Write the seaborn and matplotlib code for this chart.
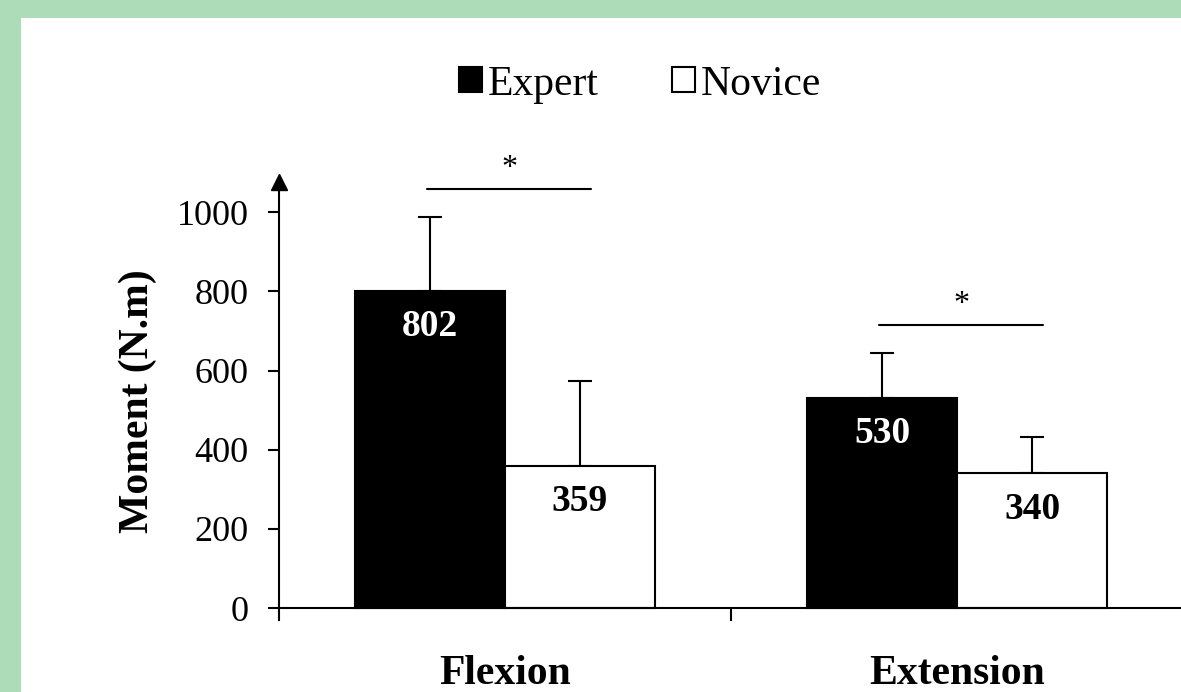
import numpy as np
import pandas as pd
import matplotlib.pyplot as plt
import seaborn as sns
from matplotlib.patches import Rectangle

categories = ['Flexion', 'Extension']
groups = ['Expert', 'Novice']
expert = [802, 530]
novice = [359, 340]
expert_sd = [185, 114]
novice_sd = [214, 92]
sig_level = [1058, 715]
yticks = [0, 200, 400, 600, 800, 1000]

sns.set_style('white')
plt.rcParams['font.family'] = ['Liberation Serif', 'DejaVu Serif']
plt.rcParams.update({'text.color': 'black', 'axes.labelcolor': 'black',
                     'xtick.color': 'black', 'ytick.color': 'black'})

df = pd.DataFrame({
    'cat': categories * 2,
    'group': ['Expert'] * 2 + ['Novice'] * 2,
    'value': expert + novice,
    'sd': expert_sd + novice_sd,
})

fig = plt.figure(figsize=(11.81, 6.92), dpi=100)
fig.patch.set_facecolor('#ADDCB8')
fig.patches.append(Rectangle((21 / 1181, 0), 1, 1 - 18 / 692, transform=fig.transFigure,
                             facecolor='white', edgecolor='none', zorder=-10))

ax = fig.add_axes([279 / 1181, (692 - 620) / 692, 904 / 1181, (620 - 182) / 692])
ax.set_facecolor('none')

sns.barplot(data=df, x='cat', y='value', hue='group', hue_order=groups,
            palette={'Expert': 'black', 'Novice': 'white'}, width=0.664,
            edgecolor='black', linewidth=1.5, errorbar=None, ax=ax, zorder=2)

# error bars + value labels from the drawn bars
for cont, grp in zip(ax.containers, groups):
    sub = df[df.group == grp]
    for bar, v, sd in zip(cont, sub.value, sub.sd):
        xc = bar.get_x() + bar.get_width() / 2
        ax.errorbar(xc, v, yerr=[[0], [sd]], fmt='none', ecolor='black',
                    elinewidth=1.5, capsize=8.5, capthick=1.5, zorder=1)
        ax.text(xc, v - 90, str(v), ha='center', va='center', fontsize=27,
                fontweight='bold', color='white' if grp == 'Expert' else 'black', zorder=3)

# significance brackets
for i, lv in enumerate(sig_level):
    ax.plot([i - 0.173, i + 0.19], [lv, lv], color='black', lw=1.5, clip_on=False)
    ax.text(i + 0.01, lv + 52, '*', ha='center', va='center', fontsize=23, clip_on=False)

ax.set_xlim(-0.5, 1.5)
ax.set_ylim(-30, 1076)
ax.set_yticks(yticks)
ax.set_xlabel('')
ax.set_ylabel('Moment (N.m)', fontsize=30, fontweight='bold', labelpad=14)

for s in ['top', 'right']:
    ax.spines[s].set_visible(False)
ax.spines['bottom'].set_position(('data', 0))
for s in ['left', 'bottom']:
    ax.spines[s].set_linewidth(1.5)
    ax.spines[s].set_color('black')
ax.plot([0], [1], marker='^', markersize=11, color='black', transform=ax.transAxes, clip_on=False)

ax.tick_params(axis='y', direction='out', length=8, width=1.5, labelsize=26, pad=14, left=True)
ax.tick_params(axis='x', which='major', length=0, labelsize=30, pad=34)
ax.set_xticks([0.5, 1.5], minor=True)
ax.tick_params(axis='x', which='minor', direction='out', length=9, width=1.5, bottom=True)
for lab in ax.get_xticklabels():
    lab.set_fontweight('bold')

handles, labels = ax.get_legend_handles_labels()
ax.legend(handles, labels, loc='center', bbox_to_anchor=(0.542, 0.878),
          bbox_transform=fig.transFigure, ncol=2, frameon=False, fontsize=30,
          handlelength=0.55, handleheight=0.55, handletextpad=0.15, columnspacing=1.75)

fig.savefig('out.png', dpi=100, facecolor=fig.get_facecolor())
